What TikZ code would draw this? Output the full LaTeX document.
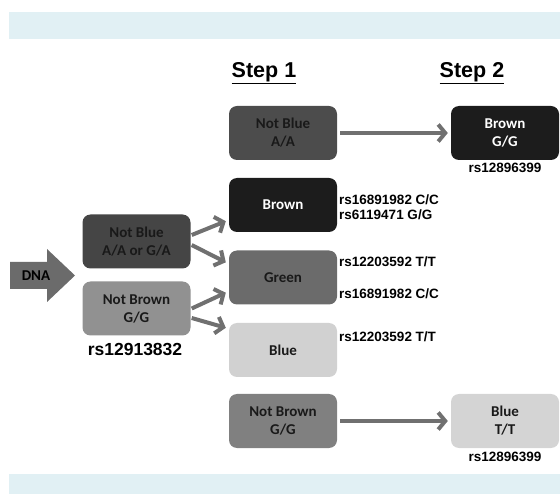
\documentclass[tikz,border=0pt]{standalone}
\usepackage{fontspec}
\setmainfont{Carlito}
\newfontfamily\arialfont{Liberation Sans}
\usepackage{tikz}
\usetikzlibrary{arrows.meta,calc}
\definecolor{bandblue}{RGB}{225,240,244}
\definecolor{arrowgray}{RGB}{112,112,112}

\begin{document}
\begin{tikzpicture}[x=1pt,y=-1pt,
  box/.style={rounded corners=8pt, minimum width=108pt, minimum height=54pt, inner sep=0pt, align=center, font=\bfseries\fontsize{15}{18}\selectfont},
  snp/.style={inner sep=0pt, font=\arialfont\bfseries\fontsize{13.5}{15}\selectfont},
  conn/.style={draw=arrowgray, line width=4pt, -{Straight Barb[length=7pt,width=17pt]}}]
\useasboundingbox (0,0) rectangle (560,494);
%\draw[help lines,step=20](0,0)grid(560,494);
% bands
\fill[bandblue] (9,12) rectangle (560,39);
\fill[bandblue] (9,474) rectangle (560,494);
% headings
\node[font=\arialfont\bfseries\fontsize{21.5}{24}\selectfont] (step1) at (264,73) {\underline{Step 1}};
\node[font=\arialfont\bfseries\fontsize{21.5}{24}\selectfont] (step2) at (472,73) {\underline{Step 2}};
% DNA arrow
\fill[black!58] (10,262)--(47,262)--(47,249)--(75,275.5)--(47,302)--(47,289)--(10,289)--cycle;
\node[font=\bfseries\fontsize{15}{18}\selectfont] (dna) at (36,275.5) {DNA};
% first split
\node[box, fill=black!73, text=black!90] (lblue) at (136.5,241.5) {Not Blue\\A/A or G/A};
\node[box, fill=black!43, text=black!90] (lbrown) at (136.5,308.5) {Not Brown\\G/G};
\node[snp, font=\arialfont\bfseries\fontsize{17.5}{19}\selectfont] (lsnp) at (135,349) {rs12913832};
% step 1
\node[box, fill=black!70, text=black!90] (nblue) at (283,133) {Not Blue\\A/A};
\node[box, fill=black!89, text=white] (brown) at (283,205) {Brown};
\node[box, fill=black!58, text=black!90] (green) at (283,277.5) {Green};
\node[box, fill=black!18, text=black!90] (blue) at (283,350) {Blue};
\node[box, fill=black!50, text=black!90] (nbrown) at (283,421) {Not Brown\\G/G};
% step 2
\node[box, fill=black!89, text=white] (brown2) at (505,133) {Brown\\G/G};
\node[box, fill=black!17, text=black!90] (blue2) at (505,421) {Blue\\T/T};
\node[snp] (snptop) at (505,168) {rs12896399};
\node[snp] (snpbot) at (505,457) {rs12896399};
% snp labels
\node[snp, anchor=west] (snpa) at (339,200) {rs16891982 C/C};
\node[snp, anchor=west] (snpb) at (339,215) {rs6119471 G/G};
\node[snp, anchor=west] (snpc) at (339,262) {rs12203592 T/T};
\node[snp, anchor=west] (snpd) at (339,294) {rs16891982 C/C};
\node[snp, anchor=west] (snpe) at (339,337) {rs12203592 T/T};
% arrows
\draw[conn, shorten <=3pt, shorten >=3pt] (nblue) -- (brown2);
\draw[conn, shorten <=3pt, shorten >=3pt] (nbrown) -- (blue2);
\draw[conn] ($(lblue.east)+(1,-6.5)$) -- ($(brown.south west)+(-3,-11)$);
\draw[conn] ($(lblue.east)+(1,3.5)$) -- ($(green.north west)+(-3,12)$);
\draw[conn] ($(lbrown.east)+(1,0)$) -- ($(green.south west)+(-3,-12)$);
\draw[conn] ($(lbrown.east)+(1,9.5)$) -- ($(blue.north west)+(-3,5)$);
\end{tikzpicture}
\end{document}
